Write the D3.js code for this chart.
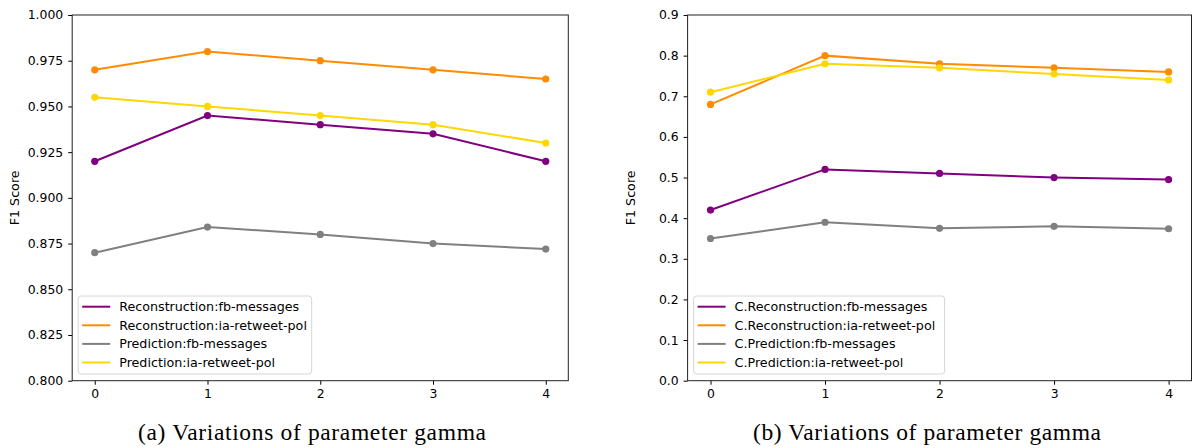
<!DOCTYPE html>
<html>
<head>
<meta charset="utf-8">
<script src="https://cdn.jsdelivr.net/npm/d3@7"></script>
<style>
  body { margin: 0; background: #fff; }
  svg { display: block; }
  .tick text { font-family: "DejaVu Sans", sans-serif; font-size: 12.4px; fill: #000; }
  .tick line { stroke: #000; }
  .ylabel, .legend text { font-family: "DejaVu Sans", sans-serif; font-size: 12.7px; fill: #000; }
  .caption { font-family: "Liberation Serif", serif; font-size: 23.5px; fill: #000; }
</style>
</head>
<body>
<svg id="chart" width="1192" height="448"></svg>
<script>
'use strict';

// gamma values on the x axis
var gammas = [0, 1, 2, 3, 4];

// panel (a)
var reconFbA = [0.920, 0.945, 0.940, 0.935, 0.920];
var reconIaA = [0.970, 0.980, 0.975, 0.970, 0.965];
var predFbA = [0.870, 0.884, 0.880, 0.875, 0.872];
var predIaA = [0.955, 0.950, 0.945, 0.940, 0.930];
var ticksA = [0.800, 0.825, 0.850, 0.875, 0.900, 0.925, 0.950, 0.975, 1.000];
var namesA = ['Reconstruction:fb-messages', 'Reconstruction:ia-retweet-pol',
	'Prediction:fb-messages', 'Prediction:ia-retweet-pol'];

// panel (b)
var reconFbB = [0.42, 0.52, 0.51, 0.50, 0.495];
var reconIaB = [0.68, 0.80, 0.78, 0.77, 0.76];
var predFbB = [0.35, 0.39, 0.375, 0.38, 0.374];
var predIaB = [0.71, 0.78, 0.77, 0.755, 0.74];
var ticksB = [0.0, 0.1, 0.2, 0.3, 0.4, 0.5, 0.6, 0.7, 0.8, 0.9];
var namesB = ['C.Reconstruction:fb-messages', 'C.Reconstruction:ia-retweet-pol',
	'C.Prediction:fb-messages', 'C.Prediction:ia-retweet-pol'];

var colors = ['#800080', '#ff8c00', '#808080', '#ffd700'];

var svg = d3.select('#chart');

/**
 * Draw one subplot.
 */
function drawPanel(opt) {
	var x = d3.scaleLinear().domain([-0.2, 4.2]).range([opt.left, opt.right]);
	var y = d3.scaleLinear().domain(opt.domain).range([380.7, 15]);
	var g = svg.append('g');

	g.append('g')
		.attr('transform', 'translate(0,380.7)')
		.call(d3.axisBottom(x).tickValues(gammas).tickSize(4).tickPadding(5).tickFormat(d3.format('d')))
		.call(function(a) { a.select('.domain').remove(); });

	g.append('g')
		.attr('transform', 'translate(' + opt.left + ',0)')
		.call(d3.axisLeft(y).tickValues(opt.ticks).tickSize(4).tickPadding(5).tickFormat(d3.format(opt.fmt)))
		.call(function(a) { a.select('.domain').remove(); });

	g.append('rect')
		.attr('x', opt.left)
		.attr('y', 15)
		.attr('width', opt.right - opt.left)
		.attr('height', 380.7 - 15)
		.attr('fill', 'none')
		.attr('stroke', '#222')
		.attr('stroke-width', 1);

	var line = d3.line()
		.x(function(d, i) { return x(gammas[i]); })
		.y(function(d) { return y(d); });

	opt.series.forEach(function(s, k) {
		g.append('path')
			.attr('d', line(s))
			.attr('fill', 'none')
			.attr('stroke', colors[k])
			.attr('stroke-width', 2);
		g.selectAll(null)
			.data(s)
			.enter()
			.append('circle')
			.attr('cx', function(d, i) { return x(gammas[i]); })
			.attr('cy', function(d) { return y(d); })
			.attr('r', 3.6)
			.attr('fill', colors[k]);
	});

	g.append('text')
		.attr('class', 'ylabel')
		.attr('transform', 'translate(' + (opt.left - 53) + ',' + (380.7 + 15) / 2 + ') rotate(-90)')
		.attr('text-anchor', 'middle')
		.text('F1 Score');

	// legend
	var lg = g.append('g')
		.attr('class', 'legend')
		.attr('transform', 'translate(' + (opt.left + 6) + ',296)');
	lg.append('rect')
		.attr('width', opt.legendWidth)
		.attr('height', 78)
		.attr('rx', 3)
		.attr('fill', '#fff')
		.attr('fill-opacity', 0.8)
		.attr('stroke', '#d6d6d6');
	opt.names.forEach(function(n, k) {
		var yy = 10.7 + k * 18.6;
		lg.append('line')
			.attr('x1', 4).attr('x2', 32)
			.attr('y1', yy).attr('y2', yy)
			.attr('stroke', colors[k])
			.attr('stroke-width', 2);
		lg.append('text')
			.attr('x', 41)
			.attr('y', yy)
			.attr('dy', '0.36em')
			.text(n);
	});

	svg.append('text')
		.attr('class', 'caption')
		.attr('x', opt.captionX)
		.attr('y', 440)
		.attr('text-anchor', 'middle')
		.attr('textLength', 348)
		.attr('lengthAdjust', 'spacing')
		.text(opt.caption);
}

drawPanel({
	left: 72.2, right: 568.3,
	domain: [0.8, 1.0], ticks: ticksA, fmt: '.3f',
	series: [reconFbA, reconIaA, predFbA, predIaA],
	names: namesA, legendWidth: 233.5,
	caption: '(a) Variations of parameter gamma', captionX: 312
});

drawPanel({
	left: 687.6, right: 1191.5,
	domain: [0.0, 0.9], ticks: ticksB, fmt: '.1f',
	series: [reconFbB, reconIaB, predFbB, predIaB],
	names: namesB, legendWidth: 251,
	caption: '(b) Variations of parameter gamma', captionX: 927
});
</script>
</body>
</html>
